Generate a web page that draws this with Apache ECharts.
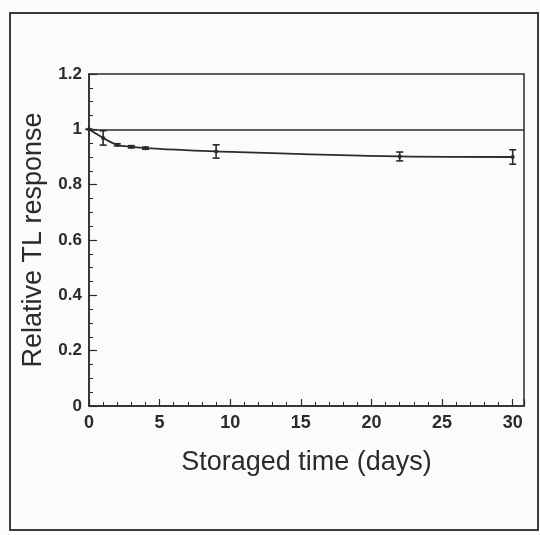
<!DOCTYPE html>
<html><head><meta charset="utf-8">
<script src="https://cdn.jsdelivr.net/npm/echarts@6/dist/echarts.min.js"></script>
<style>html,body{margin:0;padding:0;background:#fbfbfa;}#c{width:540px;height:535px;}</style>
</head><body><div id="c"></div>
<script>
const days = [0, 1, 2, 3, 4, 9, 22, 30];
const response = [1.0, 0.969, 0.944, 0.937, 0.932, 0.92, 0.902, 0.90];
const errors = [0.0, 0.026, 0.004, 0.004, 0.004, 0.024, 0.016, 0.026];
const referenceLevel = 1.0;
const xTicks = [0, 5, 10, 15, 20, 25, 30];
const yTicks = [0, 0.2, 0.4, 0.6, 0.8, 1, 1.2];

const ink = '#2b2b2b';
const chart = echarts.init(document.getElementById('c'), null, {renderer: 'canvas'});
const pts = days.map((d, i) => [d, response[i]]);
const errData = days.map((d, i) => [d, response[i] - errors[i], response[i] + errors[i]]);

chart.setOption({
  backgroundColor: '#fbfbfa',
  animation: false,
  grid: {left: 89, right: 16, top: 74, bottom: 129, show: true, borderColor: ink, borderWidth: 1.5, backgroundColor: 'transparent'},
  xAxis: {
    type: 'value', min: 0, max: 30.8, interval: 5,
    name: 'Storaged time (days)', nameLocation: 'middle', nameGap: 43,
    nameTextStyle: {fontFamily: 'Liberation Sans', fontSize: 27, color: ink},
    axisLine: {lineStyle: {color: ink, width: 1.5}},
    axisTick: {inside: true, length: 7, lineStyle: {color: ink, width: 1.2}},
    minorTick: {show: true, splitNumber: 5, length: 4, lineStyle: {color: ink, width: 1}},
    axisLabel: {showMaxLabel: false, fontFamily: 'Liberation Sans', fontWeight: 'bold', fontSize: 18, color: ink, margin: 8,
      formatter: v => xTicks.includes(v) ? String(v) : ''},
    splitLine: {show: false}
  },
  yAxis: {
    type: 'value', min: 0, max: 1.2, interval: 0.2,
    name: 'Relative TL response', nameLocation: 'middle', nameGap: 38,
    nameTextStyle: {fontFamily: 'Liberation Sans', fontSize: 27, color: ink},
    axisLine: {lineStyle: {color: ink, width: 1.5}},
    axisTick: {inside: true, length: 8, lineStyle: {color: ink, width: 1.2}},
    minorTick: {show: true, splitNumber: 4, length: 4, lineStyle: {color: ink, width: 1}},
    axisLabel: {fontFamily: 'Liberation Sans', fontWeight: 'bold', fontSize: 17, color: ink, margin: 7,
      formatter: v => { const t = yTicks.find(y => Math.abs(y - v) < 1e-6); return t === undefined ? '' : String(t); }},
    splitLine: {show: false}
  },
  graphic: [{
    type: 'rect', shape: {x: 10, y: 13, width: 528, height: 517},
    style: {fill: 'none', stroke: '#3a3a3a', lineWidth: 2}, silent: true
  }],
  series: [
    {
      type: 'line', data: pts, smooth: 0.35, symbol: 'circle', symbolSize: 4,
      lineStyle: {color: ink, width: 1.8}, itemStyle: {color: ink},
      markLine: {silent: true, symbol: 'none', label: {show: false},
        lineStyle: {color: ink, width: 1.6, type: 'solid'},
        data: [{yAxis: referenceLevel}]}
    },
    {
      type: 'custom', data: errData,
      renderItem: (params, api) => {
        const x = api.value(0);
        const lo = api.coord([x, api.value(1)]);
        const hi = api.coord([x, api.value(2)]);
        const w = 3.5;
        const st = {stroke: ink, lineWidth: 1.6};
        return {type: 'group', children: [
          {type: 'line', shape: {x1: lo[0], y1: lo[1], x2: hi[0], y2: hi[1]}, style: st},
          {type: 'line', shape: {x1: lo[0] - w, y1: lo[1], x2: lo[0] + w, y2: lo[1]}, style: st},
          {type: 'line', shape: {x1: hi[0] - w, y1: hi[1], x2: hi[0] + w, y2: hi[1]}, style: st}
        ]};
      },
      z: 5
    }
  ]
});
</script></body></html>
